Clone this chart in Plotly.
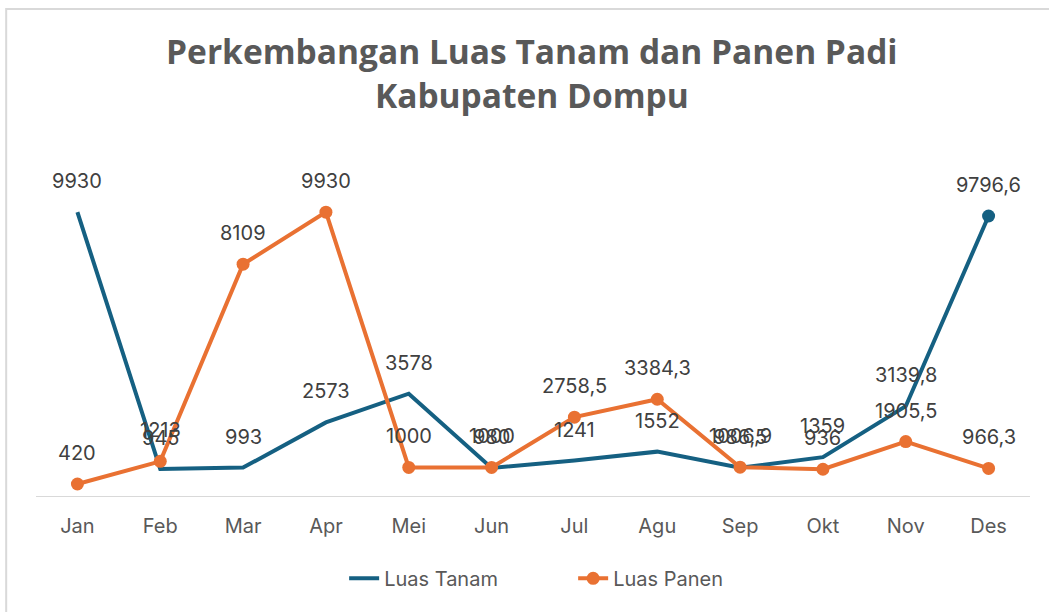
import plotly.graph_objects as go

months = ["Jan", "Feb", "Mar", "Apr", "Mei", "Jun", "Jul", "Agu", "Sep", "Okt", "Nov", "Des"]
luas_tanam = [9930, 945, 993, 2573, 3578, 980, 1241, 1552, 986.5, 1359, 3139.8, 9796.6]
luas_panen = [420, 1213, 8109, 9930, 1000, 1000, 2758.5, 3384.3, 1006.9, 936, 1905.5, 966.3]

BLUE = "#156082"
ORANGE = "#E97132"
TXT = "#595959"
FONT = "Inter"


def fmt(v):
    s = ("%g" % v)
    return s.replace(".", ",")


fig = go.Figure()
fig.add_trace(go.Scatter(
    x=months, y=luas_tanam, name="Luas Tanam", mode="lines",
    line=dict(color=BLUE, width=4),
))
fig.add_trace(go.Scatter(
    x=months[-1:], y=luas_tanam[-1:], mode="markers", showlegend=False,
    marker=dict(size=13, color=BLUE),
))
fig.add_trace(go.Scatter(
    x=months, y=luas_panen, name="Luas Panen", mode="lines+markers",
    line=dict(color=ORANGE, width=4),
    marker=dict(size=13, color=ORANGE),
))

annotations = []
for series in (luas_tanam, luas_panen):
    for m, v in zip(months, series):
        annotations.append(dict(
            x=m, y=v, text=fmt(v), showarrow=False, yshift=31,
            font=dict(family=FONT, size=20, color="#404040"),
        ))

fig.update_layout(
    width=1049, height=612,
    paper_bgcolor="white", plot_bgcolor="white",
    margin=dict(l=36, r=19, t=153, b=116, autoexpand=False),
    title=dict(
        text="Perkembangan Luas Tanam dan Panen Padi<br>Kabupaten Dompu",
        x=0.507, xanchor="center", y=0.895, yanchor="top",
        font=dict(family="Open Sans", size=33.5, color=TXT, weight="bold"),
    ),
    xaxis=dict(
        type="category", showgrid=False, showline=True, linecolor="#D9D9D9",
        linewidth=1, ticks="", tickfont=dict(family=FONT, size=20, color=TXT),
        range=[-0.5, 11.5], automargin=False, ticklabelstandoff=12,
    ),
    yaxis=dict(visible=False, range=[0, 12000], automargin=False),
    showlegend=True,
    legend=dict(
        orientation="h", x=0.31, xanchor="left", y=-0.24, yanchor="middle",
        font=dict(family=FONT, size=20, color=TXT), entrywidth=184,
        entrywidthmode="pixels",
    ),
    annotations=annotations,
    shapes=[dict(type="rect", xref="paper", yref="paper",
                 x0=-0.03, x1=1.05, y0=-0.5, y1=1.42,
                 line=dict(color="#D9D9D9", width=2))],
)

fig.write_html(
    "out.html",
    config={"displayModeBar": False},
    post_script="document.body.style.margin='0';document.body.style.padding='0';",
)
